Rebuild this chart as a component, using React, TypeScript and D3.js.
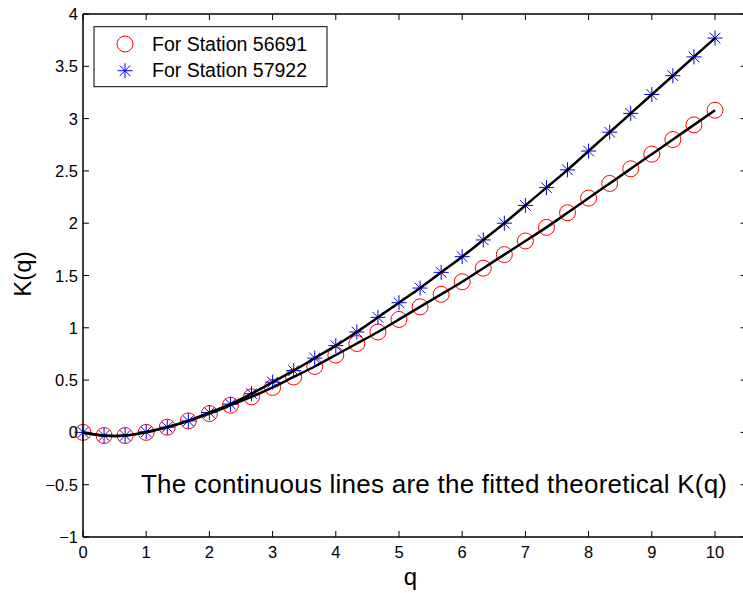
import React from "react";
import * as d3 from "d3";

const qValues: number[] = d3.range(31).map((i) => i / 3);
const station56691: number[] = [
  0, -0.03, -0.03, 0.0, 0.05, 0.11, 0.18, 0.26, 0.34, 0.43, 0.53, 0.63, 0.74, 0.85, 0.96,
  1.08, 1.2, 1.32, 1.44, 1.57, 1.7, 1.83, 1.96, 2.1, 2.24, 2.38, 2.52, 2.66, 2.8, 2.94, 3.08,
];
const station57922: number[] = [
  0, -0.03, -0.03, 0.005, 0.05, 0.11, 0.19, 0.27, 0.37, 0.48, 0.59, 0.71, 0.83, 0.96, 1.1,
  1.24, 1.38, 1.53, 1.68, 1.84, 2.0, 2.17, 2.34, 2.51, 2.69, 2.87, 3.05, 3.23, 3.41, 3.59, 3.77,
];
const xTicks: number[] = [0, 1, 2, 3, 4, 5, 6, 7, 8, 9, 10];
const yTicks: number[] = [-1, -0.5, 0, 0.5, 1, 1.5, 2, 2.5, 3, 3.5, 4];
const legendLabels: string[] = ["For Station 56691", "For Station 57922"];
const annotation = "The continuous lines are the fitted theoretical K(q)";

const W = 743;
const H = 593;
const left = 83;
const right = 746.6;
const top = 14;
const bottom = 537;
const font = "Liberation Sans, Arial, Helvetica, sans-serif";

function fmt(v: number): string {
  const s = String(v);
  return s.startsWith("-") ? "\u2212" + s.slice(1) : s;
}

function Star({ x, y, r }: { x: number; y: number; r: number }) {
  const d = r * Math.SQRT1_2;
  return (
    <g stroke="#0000ff" strokeWidth={1}>
      <line x1={x - r} y1={y} x2={x + r} y2={y} />
      <line x1={x} y1={y - r} x2={x} y2={y + r} />
      <line x1={x - d} y1={y - d} x2={x + d} y2={y + d} />
      <line x1={x - d} y1={y + d} x2={x + d} y2={y - d} />
    </g>
  );
}

export default function App() {
  const x = d3.scaleLinear().domain([0, 10.5]).range([left, right]);
  const y = d3.scaleLinear().domain([-1, 4]).range([bottom, top]);
  const line = d3
    .line<number>()
    .x((_, i) => x(qValues[i]))
    .y((d) => y(d))
    .curve(d3.curveNatural);
  const tick = 6;

  return (
    <svg
      width={W}
      height={H}
      style={{ position: "absolute", left: 0, top: 0, background: "#fff" }}
      fontFamily={font}
    >
      <rect x={0} y={0} width={W} height={H} fill="#fff" />
      {station56691.map((v, i) => (
        <circle key={"c" + i} cx={x(qValues[i])} cy={y(v)} r={8} fill="none" stroke="#ff0000" strokeWidth={1} />
      ))}
      {station57922.map((v, i) => (
        <Star key={"s" + i} x={x(qValues[i])} y={y(v)} r={7.5} />
      ))}
      <path d={line(station56691) || ""} fill="none" stroke="#000" strokeWidth={2.5} />
      <path d={line(station57922) || ""} fill="none" stroke="#000" strokeWidth={2.5} />

      <line x1={left} y1={bottom} x2={right} y2={bottom} stroke="#000" strokeWidth={1.5} />
      <line x1={left} y1={top} x2={right} y2={top} stroke="#000" strokeWidth={1.5} />
      <line x1={left} y1={top} x2={left} y2={bottom} stroke="#000" strokeWidth={1.5} />
      <line x1={right} y1={top} x2={right} y2={bottom} stroke="#000" strokeWidth={1.5} />

      {xTicks.map((t) => (
        <g key={"xt" + t}>
          <line x1={x(t)} x2={x(t)} y1={bottom} y2={bottom - tick} stroke="#000" />
          <line x1={x(t)} x2={x(t)} y1={top} y2={top + tick} stroke="#000" />
          <text x={x(t)} y={558} fontSize={16.5} textAnchor="middle" fill="#000">
            {fmt(t)}
          </text>
        </g>
      ))}
      {yTicks.map((t) => (
        <g key={"yt" + t}>
          <line x1={left} x2={left + tick} y1={y(t)} y2={y(t)} stroke="#000" />
          <line x1={right} x2={right - tick} y1={y(t)} y2={y(t)} stroke="#000" />
          <text x={78} y={y(t) + 6} fontSize={16.5} textAnchor="end" fill="#000">
            {fmt(t)}
          </text>
        </g>
      ))}

      <text x={410.5} y={585} fontSize={24} textAnchor="middle" fill="#000">
        q
      </text>
      <text
        transform={`translate(31, 274) rotate(-90)`}
        fontSize={24}
        textAnchor="middle"
        fill="#000"
      >
        K(q)
      </text>

      <text x={141} y={493} fontSize={26} textLength={586} lengthAdjust="spacing" fill="#000">
        {annotation}
      </text>

      <rect x={94} y={26.7} width={233} height={60} fill="#fff" stroke="#000" strokeWidth={1} />
      <circle cx={125} cy={44} r={8} fill="none" stroke="#ff0000" />
      <Star x={125} y={70.7} r={7.5} />
      <text x={152} y={50.7} fontSize={19.5} fill="#000">
        {legendLabels[0]}
      </text>
      <text x={152} y={76.7} fontSize={19.5} fill="#000">
        {legendLabels[1]}
      </text>
    </svg>
  );
}
